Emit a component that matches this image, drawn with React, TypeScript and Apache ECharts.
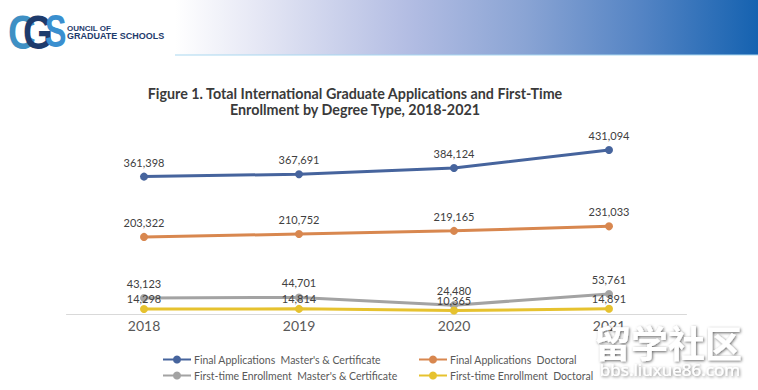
import React, { useEffect, useRef } from "react";
import * as echarts from "echarts";

const years = ["2018", "2019", "2020", "2021"];
const seriesNames = [
  "Final Applications  Master's & Certificate",
  "Final Applications  Doctoral",
  "First-time Enrollment  Master's & Certificate",
  "First-time Enrollment  Doctoral",
];
const appMasters = [361398, 367691, 384124, 431094];
const appDoctoral = [203322, 210752, 219165, 231033];
const enrMasters = [43123, 44701, 24480, 53761];
const enrDoctoral = [14298, 14814, 10365, 14891];
const colors = ["#46649d", "#d8874f", "#a3a3a3", "#e6c22f"];
const titleLines = [
  "Figure 1. Total International Graduate Applications and First-Time",
  "Enrollment by Degree Type, 2018-2021",
];

const FONT = "Lato, 'Noto Sans', sans-serif";

export default function App() {
  const ref = useRef<HTMLDivElement>(null);
  useEffect(() => {
    document.body.style.margin = "0";
    const chart = echarts.init(ref.current!, null, { renderer: "svg" });
    const values = [appMasters, appDoctoral, enrMasters, enrDoctoral];
    const series = values.map((v, i) => ({
      name: seriesNames[i],
      type: "line",
      data: v,
      symbol: "circle",
      symbolSize: 8,
      lineStyle: { width: 3, color: colors[i] },
      itemStyle: { color: colors[i] },
      label: {
        show: true,
        position: "top",
        distance: i === 3 ? 1 : 5,
        color: "#404040",
        fontSize: 11,
        fontFamily: FONT,
        formatter: (p: any) => p.value.toLocaleString("en-US"),
      },
    }));
    const legendPos = [
      { left: 162, top: 354 },
      { left: 418, top: 354 },
      { left: 162, top: 370 },
      { left: 418, top: 370 },
    ];
    const legends = seriesNames.map((name, i) => ({
      left: legendPos[i].left,
      top: legendPos[i].top,
      padding: 0,
      itemWidth: 28,
      itemHeight: 10,
      data: [name],
      textStyle: { color: "#595959", fontSize: 10.5, fontFamily: FONT, padding: [0, 0, 0, -2] },
    }));
    chart.setOption({
      animation: false,
      backgroundColor: "#ffffff",
      grid: { left: 66.5, right: 71.5, top: 123.7, bottom: 75.5 },
      xAxis: {
        type: "category",
        data: years,
        boundaryGap: true,
        axisLine: { lineStyle: { color: "#d9d9d9", width: 1 } },
        axisTick: { show: false },
        axisLabel: { color: "#595959", fontSize: 14, fontFamily: FONT, margin: 4 },
      },
      yAxis: { type: "value", min: 0, max: 500000, show: false },
      legend: legends,
      graphic: [
        {
          type: "rect",
          shape: { x: 175, y: 0, width: 583, height: 55 },
          style: {
            fill: new echarts.graphic.LinearGradient(0, 0, 1, 0, [
              { offset: 0, color: "rgba(255,255,255,1)" },
              { offset: 0.15, color: "#e4e6f4" },
              { offset: 0.4, color: "#b3bde3" },
              { offset: 0.6, color: "#8aa4d4" },
              { offset: 0.8, color: "#5484c4" },
              { offset: 1, color: "#1562b0" },
            ]),
          },
          silent: true,
        },
        {
          type: "rect",
          shape: { x: 175, y: 54, width: 583, height: 2 },
          style: { fill: "rgba(170,215,240,0.5)" },
          silent: true,
        },
        {
          type: "text",
          x: 8,
          y: 8,
          scaleX: 0.8,
          style: { text: "C", font: "bold 48px 'Liberation Sans', Arial, sans-serif", fill: "#3f90c4" },
        },
        {
          type: "text",
          x: 23,
          y: 8,
          scaleX: 0.8,
          style: { text: "G", font: "bold 48px 'Liberation Sans', Arial, sans-serif", fill: "#1e3b6c" },
        },
        {
          type: "text",
          x: 45,
          y: 8,
          scaleX: 0.7,
          style: { text: "S", font: "bold 46px 'Liberation Sans', Arial, sans-serif", fill: "#3a8fcf" },
        },
        {
          type: "text",
          x: 67,
          y: 24,
          style: { text: "OUNCIL OF", font: "bold 8px 'Liberation Sans', Arial, sans-serif", fill: "#1e3b6c" },
        },
        {
          type: "text",
          x: 67,
          y: 31,
          style: { text: "GRADUATE SCHOOLS", font: "bold 9px 'Liberation Sans', Arial, sans-serif", fill: "#1e3b6c" },
        },
        {
          type: "text",
          x: 355,
          y: 93,
          style: {
            text: titleLines[0],
            font: `bold 14.3px ${FONT}`,
            fill: "#3a3a3a",
            align: "center",
            verticalAlign: "middle",
          },
        },
        {
          type: "text",
          x: 355,
          y: 109,
          style: {
            text: titleLines[1],
            font: `bold 14.3px ${FONT}`,
            fill: "#3a3a3a",
            align: "center",
            verticalAlign: "middle",
          },
        },
        {
          type: "text",
          x: 668,
          y: 342,
          z: 100,
          style: {
            text: "留学社区",
            font: "bold 37px 'Noto Sans CJK SC', sans-serif",
            fill: "#ffffff",
            align: "center",
            verticalAlign: "middle",
            textShadowColor: "rgba(0,0,0,0.6)",
            textShadowBlur: 3,
            textShadowOffsetX: 1,
            textShadowOffsetY: 1,
          },
        },
        {
          type: "text",
          x: 670,
          y: 369,
          z: 100,
          style: {
            text: "bbs.liuxue86.com",
            font: "17px 'Noto Sans', sans-serif",
            fill: "#ffffff",
            align: "center",
            verticalAlign: "middle",
            textShadowColor: "rgba(0,0,0,0.55)",
            textShadowBlur: 3,
            textShadowOffsetX: 1,
            textShadowOffsetY: 1,
          },
        },
      ],
      series,
    });
    return () => chart.dispose();
  }, []);
  return <div ref={ref} style={{ width: 758, height: 390 }} />;
}
